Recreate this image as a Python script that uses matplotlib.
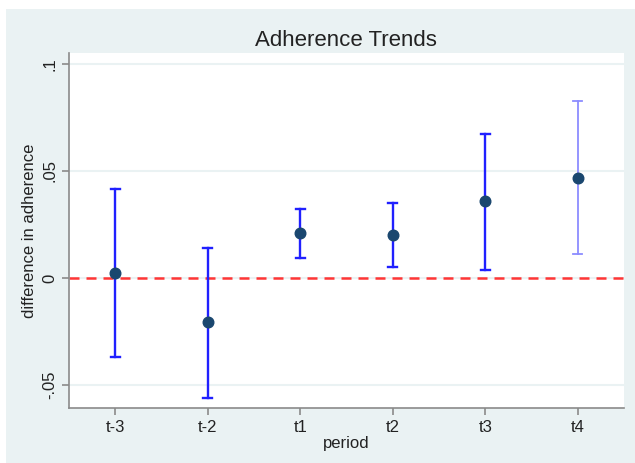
import matplotlib
matplotlib.use("Agg")
import matplotlib.pyplot as plt
from matplotlib.patches import Rectangle

plt.rcParams['font.family'] = ['Liberation Sans', 'DejaVu Sans']

# data
periods = ['t-3', 't-2', 't1', 't2', 't3', 't4']
estimate = [0.0023, -0.0206, 0.0209, 0.0202, 0.0360, 0.0469]
ci_low = [-0.0370, -0.0560, 0.0093, 0.0050, 0.0037, 0.0112]
ci_high = [0.0416, 0.0140, 0.0321, 0.0350, 0.0673, 0.0829]
ytick_vals = [-0.05, 0, 0.05, 0.1]
ytick_labels = ['-.05', '0', '.05', '.1']

bg = '#eaf2f3'
navy = '#1a476f'

fig = plt.figure(figsize=(6.35, 4.63), dpi=100, facecolor='white')
fig.patches.append(Rectangle((6 / 635, 0), 1 - 6 / 635, 1 - 9 / 463,
                             transform=fig.transFigure, facecolor=bg,
                             edgecolor='none', zorder=-5))

ax = fig.add_axes([69 / 635, 55 / 463, 555 / 635, 355 / 463])
ax.set_zorder(2)
ax.set_facecolor('white')

x = list(range(1, len(periods) + 1))

for v in ytick_vals:
    ax.axhline(v, color=bg, lw=1.5, zorder=1)

ax.axhline(0, color='#ff3535', lw=1.8, ls=(0, (4, 2.8)), zorder=2)

for i, xi in enumerate(x):
    last = i == len(x) - 1
    col = '#8c8cff' if last else '#2020ff'
    lw = 1.3 if last else 1.7
    ax.plot([xi, xi], [ci_low[i], ci_high[i]], color=col, lw=lw, zorder=3)
    ax.plot([xi - 0.05, xi + 0.05], [ci_low[i], ci_low[i]], color=col, lw=lw, zorder=3)
    ax.plot([xi - 0.05, xi + 0.05], [ci_high[i], ci_high[i]], color=col, lw=lw, zorder=3)

ax.scatter(x, estimate, s=58, color=navy, zorder=4)

ax.set_xlim(0.5, 6.5)
ax.set_ylim(-0.0607, 0.1051)
ax.set_xticks(x)
ax.set_xticklabels(periods, fontsize=12)
ax.set_yticks(ytick_vals)
ax.set_yticklabels(ytick_labels, fontsize=12, rotation=90, va='center')

for s in ['top', 'right']:
    ax.spines[s].set_visible(False)
for s in ['left', 'bottom']:
    ax.spines[s].set_color('#8a8a8a')
    ax.spines[s].set_linewidth(1.2)
ax.tick_params(colors='#8a8a8a', labelcolor='#222222', length=5, width=1.2)

ax.set_xlabel('period', fontsize=12, color='#222222', labelpad=1)
ax.set_ylabel('difference in adherence', fontsize=12, color='#222222', labelpad=4)
fig.text(346 / 635, 1 - 41 / 463, 'Adherence Trends', fontsize=16,
         ha='center', va='center', color='#222222')

fig.savefig('out.png', dpi=100, facecolor=fig.get_facecolor())
